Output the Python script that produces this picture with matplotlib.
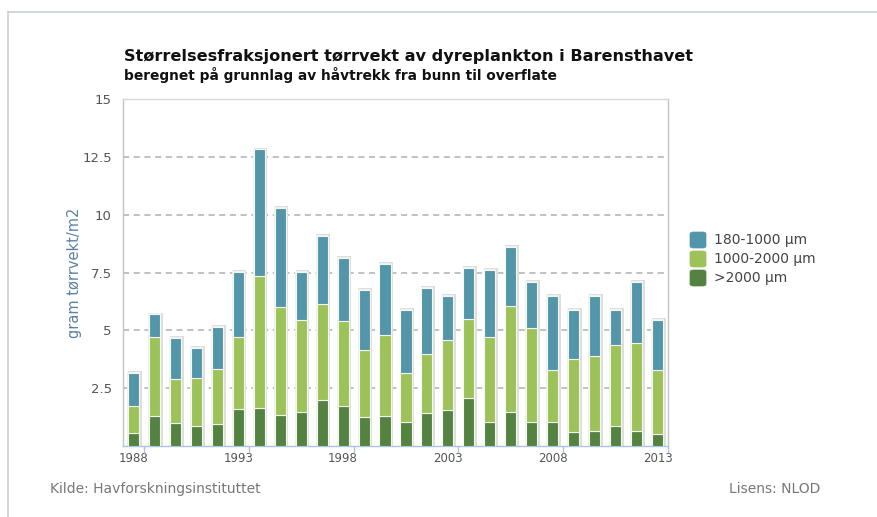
"""
Stacked bar chart: size-fractionated dry weight of zooplankton in the Barents Sea.
"""
import matplotlib

matplotlib.use("Agg")
import matplotlib.pyplot as plt
from matplotlib.lines import Line2D
from matplotlib.patches import FancyBboxPatch
import numpy as np


years = list(range(1988, 2014))
# >2000 um (bottom)
large = [0.57, 1.31, 0.99, 0.87, 0.96, 1.61, 1.64, 1.35, 1.47, 1.97, 1.75, 1.25, 1.31,
         1.03, 1.42, 1.57, 2.07, 1.05, 1.47, 1.03, 1.03, 0.61, 0.66, 0.85, 0.66, 0.53]
# 1000-2000 um (middle)
medium = [1.17, 3.40, 1.91, 2.07, 2.38, 3.11, 5.72, 4.66, 3.99, 4.18, 3.66, 2.89, 3.50,
          2.12, 2.57, 3.02, 3.40, 3.65, 4.59, 4.09, 2.26, 3.15, 3.21, 3.51, 3.79, 2.76]
# 180-1000 um (top)
small = [1.43, 0.98, 1.78, 1.29, 1.80, 2.82, 5.46, 4.27, 2.08, 2.93, 2.71, 2.61, 3.05,
         2.74, 2.86, 1.91, 2.22, 2.92, 2.56, 1.99, 3.21, 2.13, 2.63, 1.53, 2.66, 2.16]

series_labels = ["180-1000 µm", "1000-2000 µm", ">2000 µm"]
yticks = [2.5, 5, 7.5, 10, 12.5, 15]
ytick_labels = ["2.5", "5", "7.5", "10", "12.5", "15"]
xtick_years = [1988, 1993, 1998, 2003, 2008, 2013]

TITLE = "Størrelsesfraksjonert tørrvekt av dyreplankton i Barensthavet"
SUBTITLE = "beregnet på grunnlag av håvtrekk fra bunn til overflate"

COLORS = {"small": "#5396aa", "medium": "#9dc25a", "large": "#548240"}
W, H = 877, 517


def plot(fname):
    fig = plt.figure(figsize=(W / 100, H / 100), dpi=100)
    fig.patch.set_facecolor("white")

    # outer frame (left + top edges visible)
    frame_col = "#c9d1c9"
    fig.add_artist(Line2D([8 / W, 8 / W], [0, 1 - 12 / H], transform=fig.transFigure,
                          color=frame_col, lw=1.2))
    fig.add_artist(Line2D([8 / W, 1], [1 - 12 / H, 1 - 12 / H], transform=fig.transFigure,
                          color=frame_col, lw=1.2))

    ax = fig.add_axes([123 / W, 1 - 446 / H, 545 / W, 347 / H])
    x = np.arange(len(years))
    large_a = np.array(large)
    medium_a = np.array(medium)
    small_a = np.array(small)
    total = large_a + medium_a + small_a

    # soft shadow behind each bar
    ax.bar(x + 0.06, total + 0.08, width=0.66, color="#dedede", zorder=2, lw=0)
    ax.bar(x, total + 0.04, width=0.6, color="#f0f0f0", zorder=2, lw=0)

    bw = 0.53
    ax.bar(x, large_a, width=bw, color=COLORS["large"], edgecolor="#f4f8ee",
           lw=0.8, zorder=3)
    ax.bar(x, medium_a, width=bw, bottom=large_a, color=COLORS["medium"],
           edgecolor="#f4f8ee", lw=0.8, zorder=3)
    ax.bar(x, small_a, width=bw, bottom=large_a + medium_a, color=COLORS["small"],
           edgecolor="#f4f8ee", lw=0.8, zorder=3)

    ax.set_xlim(-0.5, len(years) - 0.5)
    ax.set_ylim(0, 15)

    for yv in yticks[:-1]:
        ax.axhline(yv, color="#b0b0b0", lw=1.1, dashes=(4, 3), zorder=1)

    ax.set_yticks(yticks)
    ax.set_yticklabels(ytick_labels)
    ax.tick_params(axis="y", length=0, pad=8, labelsize=9.5, labelcolor="#555555")

    ax.set_xticks([years.index(yr) for yr in xtick_years])
    ax.set_xticklabels([str(yr) for yr in xtick_years])
    ax.tick_params(axis="x", which="major", length=0, pad=4, labelsize=8.5,
                   labelcolor="#555555")
    ax.set_xticks([years.index(yr) + 0.5 for yr in xtick_years], minor=True)
    ax.tick_params(axis="x", which="minor", length=5, color="#a9c4e0", width=1)

    ax.spines["bottom"].set_color("#a9c4e0")
    ax.spines["left"].set_color("#c4c4c4")
    ax.spines["right"].set_color("#c4c4c4")
    ax.spines["top"].set_color("#d8d8d8")
    for sp in ax.spines.values():
        sp.set_linewidth(1)

    ax.set_ylabel("gram tørrvekt/m2", color="#5a81a3", fontsize=10.5, labelpad=0)

    # titles
    fig.text(124 / W, 1 - 57 / H, TITLE, fontsize=11.6, fontweight="bold",
             color="#111111", va="center", ha="left")
    fig.text(124 / W, 1 - 75 / H, SUBTITLE, fontsize=9.9, fontweight="bold",
             color="#111111", va="center", ha="left")

    # legend
    leg_cols = [COLORS["small"], COLORS["medium"], COLORS["large"]]
    for i, (lab, col) in enumerate(zip(series_labels, leg_cols)):
        yc = 240 + i * 19
        box = FancyBboxPatch((690 / W, 1 - (yc + 8) / H), 16 / W, 16 / H,
                             boxstyle="round,pad=0,rounding_size=0.004",
                             transform=fig.transFigure, facecolor=col,
                             edgecolor=col, lw=0.5)
        fig.add_artist(box)
        fig.text(714 / W, 1 - yc / H, lab, fontsize=10, color="#444444",
                 va="center", ha="left")

    # footer
    fig.text(50 / W, 1 - 489 / H, "Kilde: Havforskningsinstituttet", fontsize=10,
             color="#777777", va="center", ha="left")
    fig.text(820 / W, 1 - 489 / H, "Lisens: NLOD", fontsize=10,
             color="#777777", va="center", ha="right")

    fig.savefig(fname, dpi=100)
    plt.close(fig)


if __name__ == "__main__":
    plot("out.png")
